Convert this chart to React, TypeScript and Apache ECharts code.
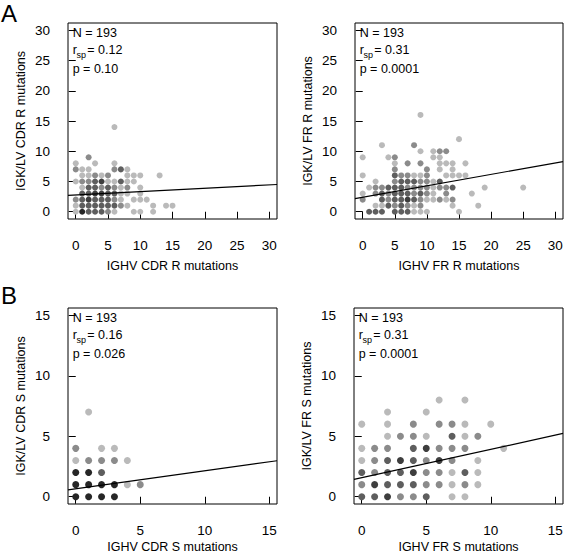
import React, { useEffect, useRef } from "react";
import * as echarts from "echarts";

// ---- Data: [x, y, overlap level (1 = single light dot ... 5 = many overlapping)] ----
const cdrR: number[][] = [
  [6, 14, 1],
  [2, 9, 2],
  [0, 8, 1], [3, 8, 1], [6, 8, 1],
  [0, 7, 2], [1, 7, 1], [2, 7, 1], [6, 7, 2], [7, 7, 3], [8, 7, 1],
  [1, 6, 1], [2, 6, 1], [3, 6, 2], [4, 6, 1], [5, 6, 2], [8, 6, 1], [9, 6, 1], [10, 6, 1], [13, 6, 1],
  [0, 5, 1], [1, 5, 2], [2, 5, 2], [3, 5, 3], [4, 5, 4], [5, 5, 1], [6, 5, 1], [7, 5, 3], [8, 5, 1], [9, 5, 1],
  [1, 4, 1], [2, 4, 3], [3, 4, 3], [4, 4, 2], [5, 4, 3], [6, 4, 2], [7, 4, 1], [8, 4, 2], [10, 4, 1],
  [1, 3, 3], [2, 3, 3], [3, 3, 4], [4, 3, 4], [5, 3, 3], [6, 3, 3], [7, 3, 1], [8, 3, 1], [10, 3, 1],
  [0, 2, 2], [1, 2, 3], [2, 2, 4], [3, 2, 3], [4, 2, 3], [5, 2, 3], [6, 2, 2], [7, 2, 1], [9, 2, 1], [10, 2, 1], [11, 2, 1],
  [0, 1, 1], [1, 1, 3], [2, 1, 3], [3, 1, 3], [4, 1, 3], [5, 1, 3], [6, 1, 3], [7, 1, 2], [8, 1, 1], [12, 1, 1], [14, 1, 1], [15, 1, 1],
  [0, 0, 1], [1, 0, 5], [2, 0, 3], [3, 0, 3], [4, 0, 3], [5, 0, 2], [6, 0, 1], [9, 0, 1], [10, 0, 1], [12, 0, 1],
];

const frR: number[][] = [
  [9, 16, 1],
  [15, 12, 1],
  [3, 11, 1], [8, 11, 2],
  [9, 10, 1], [11, 10, 1], [12, 10, 2], [13, 10, 2],
  [0, 9, 1], [4, 9, 1], [5, 9, 2], [11, 9, 1], [12, 9, 1],
  [5, 8, 1], [7, 8, 2], [9, 8, 2], [12, 8, 1], [13, 8, 1], [14, 8, 1], [16, 8, 1],
  [5, 7, 2], [10, 7, 2], [12, 7, 1], [14, 7, 1],
  [0, 6, 1], [5, 6, 3], [6, 6, 2], [7, 6, 2], [8, 6, 1], [9, 6, 1], [10, 6, 2], [13, 6, 1], [14, 6, 1], [15, 6, 1], [16, 6, 1],
  [2, 5, 1], [5, 5, 2], [6, 5, 3], [7, 5, 3], [8, 5, 3], [9, 5, 2], [10, 5, 2], [11, 5, 1], [12, 5, 3],
  [1, 4, 1], [2, 4, 2], [3, 4, 2], [4, 4, 3], [5, 4, 3], [6, 4, 3], [7, 4, 2], [8, 4, 2], [9, 4, 2], [10, 4, 2], [11, 4, 1], [12, 4, 2], [13, 4, 2], [14, 4, 3], [19, 4, 1], [25, 4, 1],
  [0, 3, 1], [2, 3, 2], [3, 3, 3], [4, 3, 2], [5, 3, 3], [6, 3, 3], [7, 3, 3], [8, 3, 2], [9, 3, 3], [10, 3, 2], [11, 3, 1], [13, 3, 2], [17, 3, 1],
  [0, 2, 2], [3, 2, 3], [4, 2, 2], [5, 2, 3], [6, 2, 3], [7, 2, 4], [8, 2, 3], [9, 2, 2], [10, 2, 1], [11, 2, 1], [12, 2, 2], [13, 2, 1], [14, 2, 2],
  [2, 1, 1], [3, 1, 1], [4, 1, 3], [5, 1, 2], [6, 1, 3], [7, 1, 2], [8, 1, 1], [9, 1, 2], [14, 1, 1], [18, 1, 1],
  [1, 0, 3], [2, 0, 3], [3, 0, 3], [5, 0, 3], [6, 0, 3], [7, 0, 3], [8, 0, 1], [9, 0, 1], [10, 0, 1], [15, 0, 1],
];

const cdrS: number[][] = [
  [1, 7, 1],
  [0, 4, 2], [2, 4, 1], [3, 4, 1],
  [0, 3, 1], [1, 3, 2], [2, 3, 2], [3, 3, 2], [4, 3, 1],
  [0, 2, 5], [1, 2, 5], [2, 2, 3],
  [0, 1, 5], [1, 1, 5], [2, 1, 5], [3, 1, 5], [4, 1, 1], [5, 1, 2],
  [0, 0, 5], [1, 0, 5], [2, 0, 5], [3, 0, 5],
];

const frS: number[][] = [
  [6, 8, 1], [8, 8, 1],
  [2, 7, 1], [5, 7, 1],
  [0, 6, 1], [2, 6, 1], [4, 6, 2], [6, 6, 2], [7, 6, 2], [8, 6, 1], [10, 6, 1],
  [2, 5, 1], [3, 5, 2], [4, 5, 2], [5, 5, 1], [7, 5, 3], [8, 5, 1], [9, 5, 2],
  [0, 4, 1], [1, 4, 2], [2, 4, 2], [4, 4, 3], [5, 4, 4], [6, 4, 2], [7, 4, 2], [8, 4, 2], [11, 4, 1],
  [0, 3, 1], [1, 3, 2], [2, 3, 3], [3, 3, 4], [4, 3, 3], [5, 3, 2], [6, 3, 4], [7, 3, 2], [9, 3, 1],
  [0, 2, 3], [1, 2, 2], [2, 2, 3], [3, 2, 3], [4, 2, 4], [5, 2, 2], [6, 2, 2], [7, 2, 1], [8, 2, 3], [9, 2, 1],
  [0, 1, 2], [1, 1, 4], [2, 1, 3], [3, 1, 3], [4, 1, 3], [5, 1, 2], [6, 1, 2], [7, 1, 1], [8, 1, 2], [9, 1, 1],
  [0, 0, 3], [1, 0, 3], [2, 0, 4], [3, 0, 2], [4, 0, 2], [5, 0, 3], [7, 0, 1], [8, 0, 1],
];

// regression fits: [intercept, slope]
const fitCdrR = [2.77, 0.0556];
const fitFrR = [2.4, 0.189];
const fitCdrS = [0.65, 0.149];
const fitFrS = [1.57, 0.235];

const statsN = ["193", "193", "193", "193"];
const statsR = ["0.12", "0.31", "0.16", "0.31"];
const statsP = ["0.10", "0.0001", "0.026", "0.0001"];

const xNames = ["IGHV CDR R mutations", "IGHV FR R mutations", "IGHV CDR S mutations", "IGHV FR S mutations"];
const yNames = ["IGK/LV CDR R mutations", "IGK/LV FR R mutations", "IGK/LV CDR S mutations", "IGK/LV FR S mutations"];
const axisMax = [30, 30, 15, 15];
const axisStep = [5, 5, 5, 5];
const panelLetters = ["A", "B"];

// ---- Layout ----
const layout = [
  { left: 68, top: 23, width: 209, height: 196, size: 6, xTitleGap: 47 },
  { left: 355, top: 23, width: 208, height: 196, size: 6, xTitleGap: 47 },
  { left: 68, top: 308, width: 209, height: 196, size: 7, xTitleGap: 43 },
  { left: 354, top: 308, width: 209, height: 196, size: 7, xTitleGap: 43 },
];

const SHADES = ["#ffffff", "#bababa", "#8b8b8b", "#5e5e5e", "#3e3e3e", "#262626"];
const FONT = "Liberation Sans, Arial, Helvetica, sans-serif";

function buildOption() {
  const datasets = [cdrR, frR, cdrS, frS];
  const fits = [fitCdrR, fitFrR, fitCdrS, fitFrS];
  const grid: any[] = [];
  const xAxis: any[] = [];
  const yAxis: any[] = [];
  const series: any[] = [];
  const graphic: any[] = [];

  layout.forEach((L, i) => {
    const max = axisMax[i];
    const pad = max * 0.04;
    const lo = -pad;
    const hi = max + pad;
    const px = (v: number) => L.left + ((v - lo) / (hi - lo)) * L.width;
    const py = (v: number) => L.top + L.height - ((v - lo) / (hi - lo)) * L.height;

    // main (box) grid
    const gi = grid.length;
    grid.push({
      left: L.left, top: L.top, width: L.width, height: L.height,
      show: true, borderColor: "#000", borderWidth: 1, backgroundColor: "transparent",
    });
    xAxis.push({ gridIndex: gi, type: "value", min: lo, max: hi, show: false });
    yAxis.push({ gridIndex: gi, type: "value", min: lo, max: hi, show: false });

    // axis grid spanning only the tick range
    const ai = grid.length;
    const aLeft = px(0), aRight = px(max), aTop = py(max), aBottom = py(0);
    grid.push({ left: aLeft, top: aTop, width: aRight - aLeft, height: aBottom - aTop, show: false });
    const tickStyle = { show: true, inside: false, length: 7, lineStyle: { color: "#000", width: 1 } };
    xAxis.push({
      gridIndex: ai, type: "value", min: 0, max, interval: axisStep[i],
      offset: L.top + L.height - aBottom,
      axisLine: { show: false }, axisTick: tickStyle, splitLine: { show: false },
      axisLabel: { color: "#000", fontSize: 13.5, fontFamily: FONT, margin: 19, showMinLabel: true, showMaxLabel: true },
    });
    yAxis.push({
      gridIndex: ai, type: "value", min: 0, max, interval: axisStep[i],
      offset: aLeft - L.left,
      axisLine: { show: false }, axisTick: tickStyle, splitLine: { show: false },
      axisLabel: { color: "#000", fontSize: 13.5, fontFamily: FONT, margin: 18, showMinLabel: true, showMaxLabel: true },
    });

    series.push({
      type: "scatter", xAxisIndex: gi, yAxisIndex: gi,
      data: datasets[i], symbolSize: L.size,
      itemStyle: { color: (p: any) => SHADES[p.data[2]], opacity: 1 },
      silent: true,
    });
    const [a, b] = fits[i];
    series.push({
      type: "line", xAxisIndex: gi, yAxisIndex: gi,
      data: [[lo, a + b * lo], [hi, a + b * hi]],
      symbol: "none", lineStyle: { color: "#000", width: 1.2 }, silent: true, clip: true,
    });

    // stats text
    const tx = L.left + 4.7;
    graphic.push({ type: "text", x: tx, y: L.top + 9.5, style: { text: `N = ${statsN[i]}`, font: `12.5px ${FONT}`, fill: "#000", textAlign: "left", textVerticalAlign: "middle" } });
    graphic.push({ type: "text", x: tx, y: L.top + 27, style: { text: "r", font: `12.5px ${FONT}`, fill: "#000", textAlign: "left", textVerticalAlign: "middle" } });
    graphic.push({ type: "text", x: tx + 3.8, y: L.top + 31.5, style: { text: "sp", font: `9px ${FONT}`, fill: "#000", textAlign: "left", textVerticalAlign: "middle" } });
    graphic.push({ type: "text", x: tx + 14.6, y: L.top + 27, style: { text: `= ${statsR[i]}`, font: `12.5px ${FONT}`, fill: "#000", textAlign: "left", textVerticalAlign: "middle" } });
    graphic.push({ type: "text", x: tx, y: L.top + 46, style: { text: `p = ${statsP[i]}`, font: `12.5px ${FONT}`, fill: "#000", textAlign: "left", textVerticalAlign: "middle" } });

    // axis titles
    graphic.push({ type: "text", x: L.left + L.width / 2, y: L.top + L.height + L.xTitleGap, style: { text: xNames[i], font: `12.5px ${FONT}`, fill: "#000", textAlign: "center", textVerticalAlign: "middle" } });
    graphic.push({ type: "text", x: L.left - 47, y: L.top + L.height / 2, rotation: Math.PI / 2, style: { text: yNames[i], font: `12.5px ${FONT}`, fill: "#000", textAlign: "center", textVerticalAlign: "middle" } });
  });

  graphic.push({ type: "text", x: 1, y: 13.5, style: { text: panelLetters[0], font: `24px ${FONT}`, fill: "#000", textAlign: "left", textVerticalAlign: "middle" } });
  graphic.push({ type: "text", x: 1, y: 295.5, style: { text: panelLetters[1], font: `24px ${FONT}`, fill: "#000", textAlign: "left", textVerticalAlign: "middle" } });

  return { animation: false, backgroundColor: "#fff", grid, xAxis, yAxis, series, graphic };
}

export default function App() {
  const ref = useRef<HTMLDivElement>(null);
  useEffect(() => {
    document.body.style.margin = "0";
    if (!ref.current) return;
    const chart = echarts.init(ref.current, undefined, { renderer: "svg" });
    chart.setOption(buildOption() as any);
    return () => chart.dispose();
  }, []);
  return <div ref={ref} style={{ width: 566, height: 555 }} />;
}
